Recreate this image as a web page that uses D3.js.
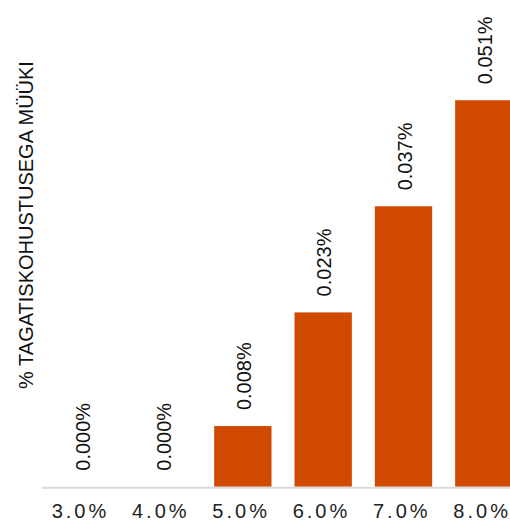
<!DOCTYPE html>
<html>
<head>
<meta charset="utf-8">
<script src="https://cdn.jsdelivr.net/npm/d3@7"></script>
<style>
  html, body { margin: 0; padding: 0; background: #fff; }
  svg { display: block; font-family: Arial, "Liberation Sans", sans-serif; }
</style>
</head>
<body>
<svg id="chart" width="510" height="523"></svg>
<script>
// Share of sales with guarantee obligation, by rate
const categories = ["3.0%", "4.0%", "5.0%", "6.0%", "7.0%", "8.0%"];
const values = [0.000, 0.000, 0.008, 0.023, 0.037, 0.051];
const valueLabels = ["0.000%", "0.000%", "0.008%", "0.023%", "0.037%", "0.051%"];
const yTitle = "% TAGATISKOHUSTUSEGA MÜÜKI";

const svg = d3.select("#chart");
const baseY = 486.7;

const x = d3.scaleBand()
  .domain(categories)
  .range([42, 524])
  .paddingInner(0.286)
  .paddingOuter(0.143);

const y = d3.scaleLinear()
  .domain([0, 0.0512])
  .range([baseY, 98.7]);

// bars
svg.append("g")
  .selectAll("rect")
  .data(values)
  .join("rect")
  .attr("x", (d, i) => x(categories[i]))
  .attr("width", x.bandwidth())
  .attr("y", d => y(d))
  .attr("height", d => baseY - y(d))
  .attr("fill", "#D04A02");

// baseline
svg.append("line")
  .attr("x1", 42).attr("x2", 510)
  .attr("y1", baseY + 1).attr("y2", baseY + 1)
  .attr("stroke", "#d9d9d9")
  .attr("stroke-width", 2);

// value labels, rotated above each bar
svg.append("g")
  .selectAll("text")
  .data(values)
  .join("text")
  .attr("transform", (d, i) =>
    `translate(${x(categories[i]) + x.bandwidth() / 2 + 1},${y(d) - 16}) rotate(-90)`)
  .attr("dy", "0.35em")
  .attr("text-anchor", "start")
  .attr("font-size", 20)
  .attr("fill", "#111")
  .text((d, i) => valueLabels[i]);

// category labels
svg.append("g")
  .selectAll("text")
  .data(categories)
  .join("text")
  .attr("x", d => x(d) + x.bandwidth() / 2 - 1.7)
  .attr("y", 518)
  .attr("text-anchor", "middle")
  .attr("font-size", 20)
  .attr("letter-spacing", "3px")
  .attr("fill", "#222")
  .text(d => d);

// y-axis title
svg.append("text")
  .attr("transform", "translate(33,225) rotate(-90)")
  .attr("text-anchor", "middle")
  .attr("font-size", 20)
  .attr("fill", "#111")
  .text(yTitle);
</script>
</body>
</html>
